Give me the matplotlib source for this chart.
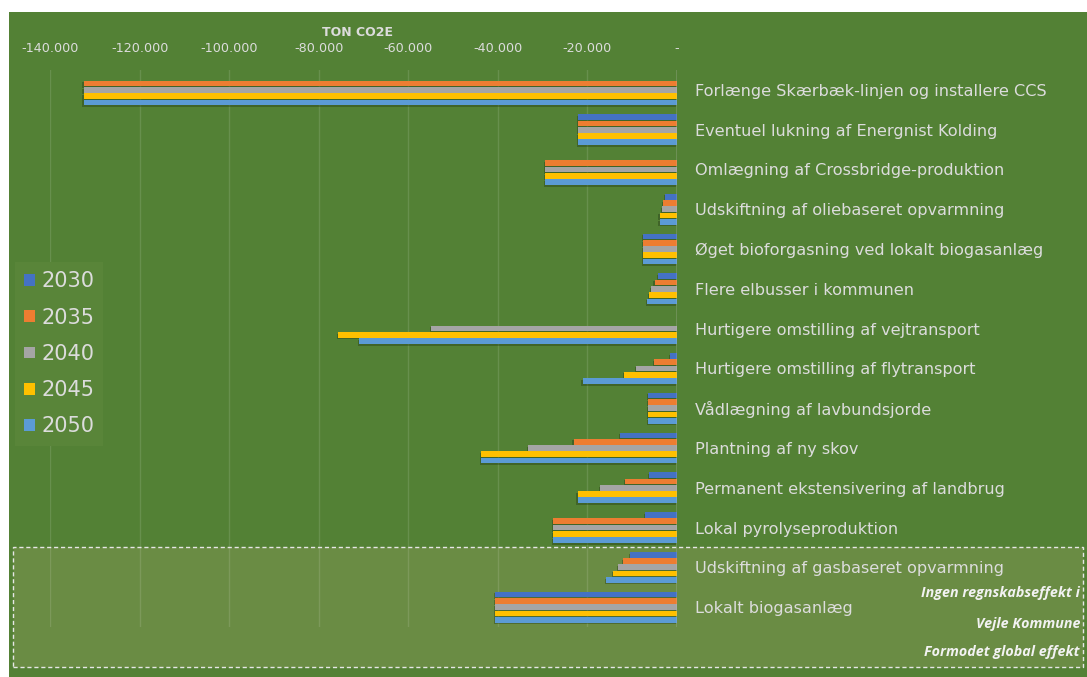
import numpy as np
import matplotlib
matplotlib.use("Agg")
import matplotlib.pyplot as plt
import matplotlib.patheffects as pe
from matplotlib.patches import Rectangle, Patch

# kategorier (tiltag), fra top til bund
kategorier = [
    "Forlænge Skærbæk-linjen og installere CCS",
    "Eventuel lukning af Energnist Kolding",
    "Omlægning af Crossbridge-produktion",
    "Udskiftning af oliebaseret opvarmning",
    "Øget bioforgasning ved lokalt biogasanlæg",
    "Flere elbusser i kommunen",
    "Hurtigere omstilling af vejtransport",
    "Hurtigere omstilling af flytransport",
    "Vådlægning af lavbundsjorde",
    "Plantning af ny skov",
    "Permanent ekstensivering af landbrug",
    "Lokal pyrolyseproduktion",
    "Udskiftning af gasbaseret opvarmning",
    "Lokalt biogasanlæg",
]

aar = ["2030", "2035", "2040", "2045", "2050"]

# ton CO2e
v2030 = [0, -22000, 0, -2700, -7500, -4200, 0, -1500, -6500, -12700, -6200, -7100, -10500, -40600]
v2035 = [-132500, -22000, -29500, -3100, -7500, -5000, 0, -5100, -6500, -23100, -11500, -27700, -12000, -40600]
v2040 = [-132500, -22000, -29500, -3400, -7500, -5800, -55000, -9100, -6500, -33300, -17100, -27700, -13100, -40600]
v2045 = [-132500, -22000, -29500, -3900, -7500, -6300, -75700, -11900, -6500, -43700, -22200, -27700, -14300, -40600]
v2050 = [-132500, -22000, -29500, -3900, -7500, -6700, -70900, -21100, -6500, -43700, -22200, -27700, -15800, -40600]

farver = ["#4472C4", "#ED7D31", "#A5A5A5", "#FFC000", "#5B9BD5"]
tekstfarve = "#dcdcdc"

W, H = 1087, 677
fig = plt.figure(figsize=(W / 100, H / 100), dpi=100)
fig.patch.set_facecolor("white")

# groen baggrund
fig.patches.append(Rectangle((9 / W, 0), 1 - 9 / W, 1 - 12 / H, transform=fig.transFigure,
                             facecolor="#538135", edgecolor="none", zorder=-3))
# stiplet boks for global effekt
fig.patches.append(Rectangle((13 / W, 1 - 667 / H), (1083 - 13) / W, (667 - 547) / H,
                             transform=fig.transFigure, facecolor="#6a8c44",
                             edgecolor="#e6e6e6", linestyle=(0, (3, 2)), lw=1, zorder=-2))

ax = fig.add_axes([50 / W, 1 - 627 / H, (677 - 50) / W, (627 - 70) / H])
ax.set_facecolor("none")

y = np.arange(len(kategorier))
h = 0.158
serier = [v2030, v2035, v2040, v2045, v2050]
for j, (vals, c, lab) in enumerate(zip(serier, farver, aar)):
    bars = ax.barh(y + (j - 2) * h, vals, height=h * 0.92, color=c, label=lab, zorder=3)
    for b in bars:
        b.set_path_effects([pe.SimplePatchShadow(offset=(-0.8, -1.2), shadow_rgbFace="#1e3010", alpha=0.35),
                            pe.Normal()])

ax.set_xlim(-140000, 0)
ax.set_ylim(len(kategorier) - 0.5, -0.5)

ticks = np.arange(-140000, 1, 20000)
ax.set_xticks(ticks)
ax.set_xticklabels(["{:,.0f}".format(t).replace(",", ".") if t != 0 else "-" for t in ticks],
                   fontsize=9.2, color=tekstfarve, family=["Liberation Sans Narrow", "DejaVu Sans"])
ax.xaxis.tick_top()
ax.tick_params(axis="x", length=0, pad=11)
ax.grid(axis="x", color="white", alpha=0.12, lw=1, zorder=0)

ax.yaxis.tick_right()
ax.set_yticks(y)
ax.set_yticklabels(kategorier, fontsize=11.6, color=tekstfarve, family=["DejaVu Sans"])
ax.tick_params(axis="y", length=0, pad=13)

for s in ax.spines.values():
    s.set_visible(False)
ax.axvline(0, color="#c8c8c8", lw=1, zorder=4)

fig.text(358 / W, 1 - 32 / H, "TON CO2E", ha="center", va="center", fontsize=9,
         fontweight="bold", color=tekstfarve, family=["Liberation Sans Narrow", "DejaVu Sans"])

handles = [Patch(facecolor=c) for c in farver]
leg = fig.legend(handles, aar, loc="upper left", bbox_to_anchor=(15 / W, 1 - 262 / H),
                 borderaxespad=0, fontsize=15, frameon=True, facecolor="#598539", edgecolor="none",
                 framealpha=1, handlelength=0.5, handleheight=0.5, handletextpad=0.3,
                 labelspacing=0.78, borderpad=0.45, fancybox=False)
for t in leg.get_texts():
    t.set_color(tekstfarve)

for tekst, yy in [("Ingen regnskabseffekt i", 593), ("Vejle Kommune", 624), ("Formodet global effekt", 652)]:
    fig.text(1080 / W, 1 - yy / H, tekst, ha="right", va="center", fontsize=10.3,
             fontstyle="italic", fontweight="bold", color="#f2f2f2", family=["Open Sans", "DejaVu Sans"])

fig.savefig("out.png", dpi=100)
